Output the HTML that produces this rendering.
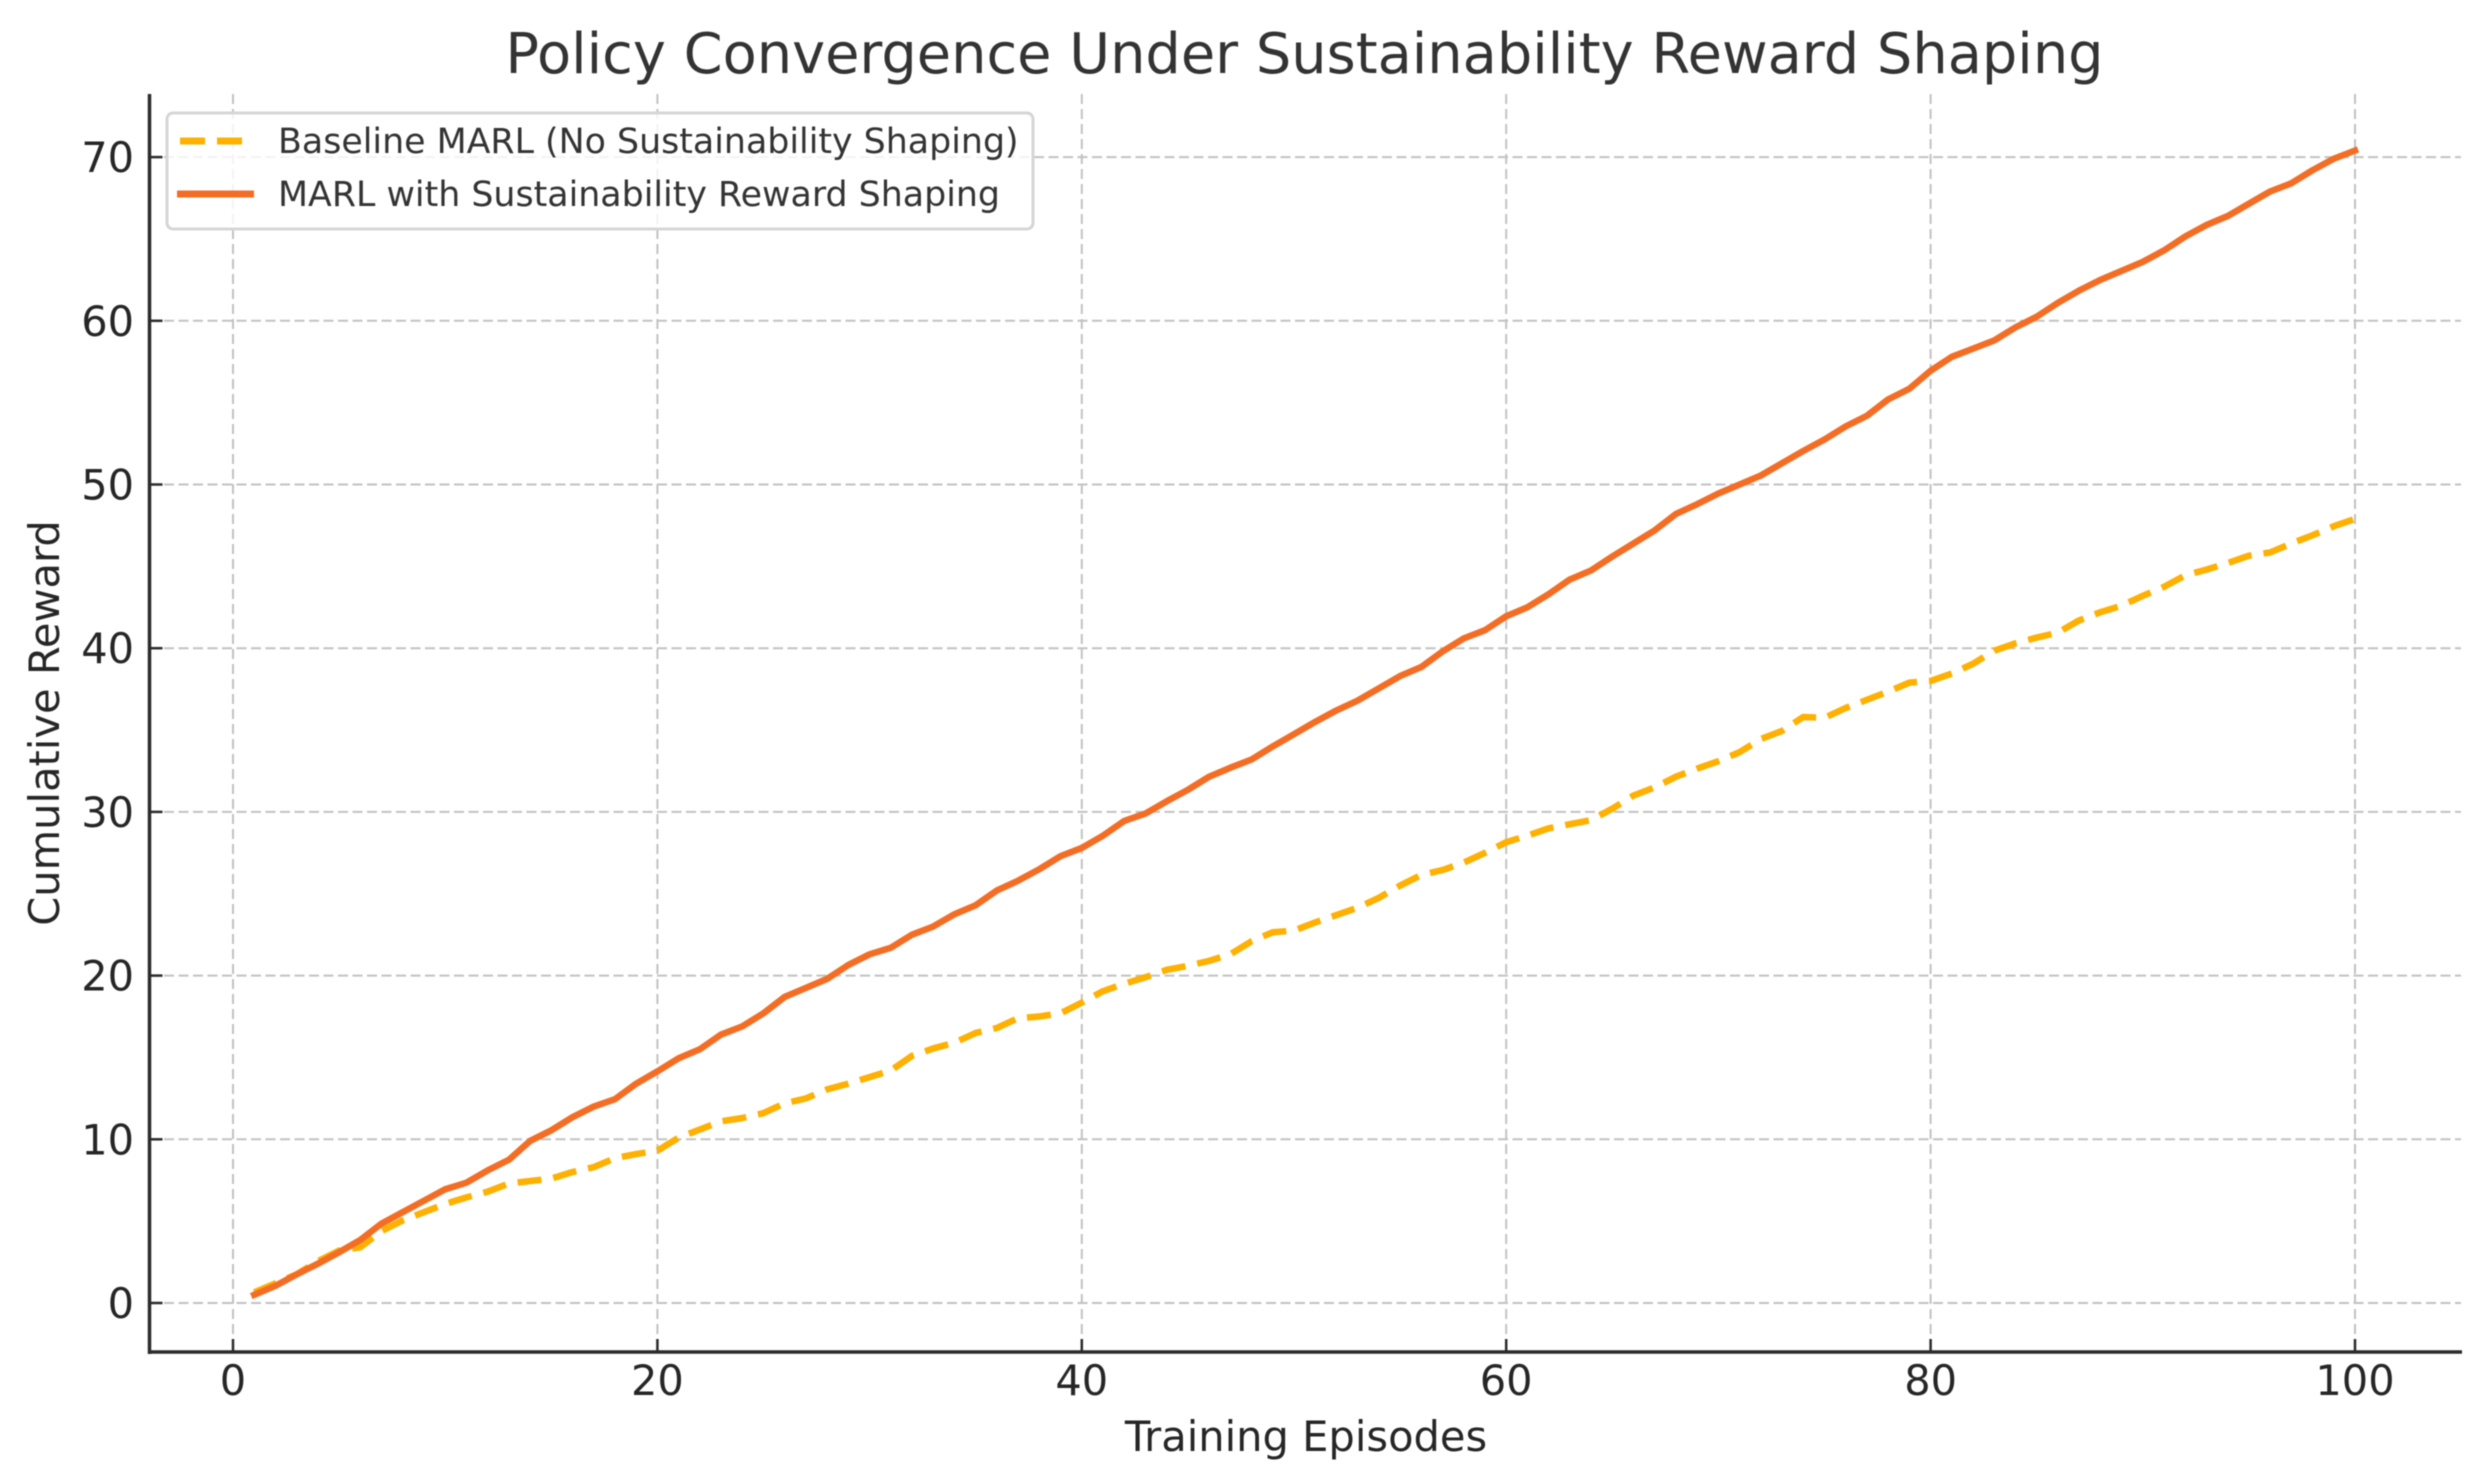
<!DOCTYPE html>
<html lang="en">
<head>
<meta charset="utf-8">
<title>Policy Convergence Under Sustainability Reward Shaping</title>
<style>
html,body{margin:0;padding:0;background:#fff;width:2488px;height:1480px;overflow:hidden}
svg{display:block;filter:blur(0.6px)}
text{font-family:"DejaVu Sans","Liberation Sans",sans-serif}
</style>
</head>
<body>
<svg id="chart" xmlns="http://www.w3.org/2000/svg" width="2488" height="1480" viewBox="0 0 2488 1480">
  <rect x="0" y="0" width="2488" height="1480" fill="#ffffff"/>
  <g id="grid"></g>
  <g id="series"></g>
  <g id="legend">
    <rect x="167" y="113" width="866" height="116" rx="6" ry="6" fill="#ffffff" fill-opacity="0.8" stroke="#d6d6d6" stroke-width="3"/>
    <g>
      <line x1="180" y1="141" x2="254" y2="141" stroke="#ffb000" stroke-width="7" stroke-dasharray="25 12"/>
      <text x="278" y="153" font-size="34.8" fill="#333333">Baseline MARL (No Sustainability Shaping)</text>
    </g>
    <g>
      <line x1="177" y1="194" x2="254" y2="194" stroke="#f46d25" stroke-width="7"/>
      <text x="278" y="206" font-size="34.8" fill="#333333">MARL with Sustainability Reward Shaping</text>
    </g>
  </g>
  <g id="axes">
    <line x1="149.5" y1="94" x2="149.5" y2="1354" stroke="#2b2b2b" stroke-width="3.5"/>
    <line x1="148" y1="1352" x2="2462" y2="1352" stroke="#2b2b2b" stroke-width="3.5"/>
  </g>
  <text x="1304.5" y="73" text-anchor="middle" font-size="55.8" fill="#333333">Policy Convergence Under Sustainability Reward Shaping</text>
  <text x="1306" y="1451" text-anchor="middle" font-size="41.6" fill="#262626">Training Episodes</text>
  <text transform="translate(59 723) rotate(-90)" text-anchor="middle" font-size="41.6" fill="#262626">Cumulative Reward</text>
</svg>
<script>
const episodes = [1,2,3,4,5,6,7,8,9,10,11,12,13,14,15,16,17,18,19,20,21,22,23,24,25,26,27,28,29,30,31,32,33,34,35,36,37,38,39,40,41,42,43,44,45,46,47,48,49,50,51,52,53,54,55,56,57,58,59,60,61,62,63,64,65,66,67,68,69,70,71,72,73,74,75,76,77,78,79,80,81,82,83,84,85,86,87,88,89,90,91,92,93,94,95,96,97,98,99,100];
const baselineValues = [0.65,1.2,1.75,2.55,3.2,3.4,4.4,5.05,5.55,6.05,6.45,6.8,7.3,7.45,7.6,8.0,8.3,8.85,9.1,9.3,10.1,10.6,11.1,11.3,11.6,12.2,12.5,13.05,13.4,13.8,14.2,15.1,15.55,15.9,16.5,16.8,17.4,17.5,17.7,18.35,19.05,19.5,19.9,20.35,20.6,20.9,21.3,22.1,22.65,22.75,23.25,23.7,24.15,24.75,25.5,26.15,26.45,26.9,27.5,28.15,28.55,29.0,29.25,29.5,30.2,31.0,31.5,32.15,32.65,33.1,33.65,34.45,34.95,35.8,35.75,36.35,36.85,37.35,37.9,38.0,38.45,39.05,39.85,40.3,40.65,40.95,41.7,42.2,42.6,43.2,43.75,44.45,44.8,45.2,45.65,45.85,46.4,46.9,47.45,47.9];
const shapedValues = [0.5,1.05,1.75,2.4,3.1,3.85,4.85,5.55,6.25,6.95,7.35,8.1,8.75,9.9,10.55,11.35,12.0,12.45,13.4,14.15,14.95,15.5,16.4,16.9,17.7,18.7,19.25,19.8,20.65,21.3,21.7,22.5,23.0,23.75,24.3,25.2,25.8,26.5,27.3,27.8,28.55,29.45,29.9,30.65,31.35,32.15,32.7,33.2,34.0,34.75,35.5,36.2,36.8,37.55,38.3,38.85,39.8,40.6,41.1,41.95,42.5,43.3,44.2,44.75,45.6,46.4,47.2,48.2,48.8,49.45,50.0,50.55,51.3,52.05,52.75,53.55,54.2,55.2,55.85,56.95,57.8,58.3,58.8,59.6,60.25,61.1,61.85,62.5,63.05,63.6,64.3,65.15,65.85,66.4,67.15,67.9,68.4,69.2,69.9,70.4];
const xTickLabels = [0,20,40,60,80,100];
const yTickLabels = [0,10,20,30,40,50,60,70];

const NS = 'http://www.w3.org/2000/svg';
const PLOT_LEFT = 149.5, PLOT_RIGHT = 2461, PLOT_TOP = 94, PLOT_BOTTOM = 1352;

function xScale(v) { return 233 + v * 21.22; }
function yScale(v) { return 1303 - v * 16.37; }

function make(tag, attrs) {
  const el = document.createElementNS(NS, tag);
  Object.keys(attrs).forEach(function (k) { el.setAttribute(k, attrs[k]); });
  return el;
}

const gridGroup = document.getElementById('grid');
const axesGroup = document.getElementById('axes');
const seriesGroup = document.getElementById('series');

xTickLabels.forEach(function (t) {
  const x = xScale(t);
  const g = make('line', {x1: x, y1: PLOT_TOP, x2: x, y2: PLOT_BOTTOM, stroke: '#c2c2c2', 'stroke-width': 2, 'stroke-dasharray': '10 5'});
  
  
  gridGroup.appendChild(g);
  const tick = make('line', {x1: x, y1: PLOT_BOTTOM, x2: x, y2: PLOT_BOTTOM - 13, stroke: '#2b2b2b', 'stroke-width': 2.5});
  
  
  axesGroup.appendChild(tick);
  const label = make('text', {x: x, y: 1395, 'text-anchor': 'middle', 'font-size': 41.5, fill: '#262626'});
  
  
  label.textContent = String(t);
  axesGroup.appendChild(label);
});

yTickLabels.forEach(function (t) {
  const y = yScale(t);
  const g = make('line', {x1: PLOT_LEFT, y1: y, x2: PLOT_RIGHT, y2: y, stroke: '#c2c2c2', 'stroke-width': 2, 'stroke-dasharray': '10 4.5'});
  
  
  gridGroup.appendChild(g);
  const tick = make('line', {x1: PLOT_LEFT, y1: y, x2: PLOT_LEFT + 13, y2: y, stroke: '#2b2b2b', 'stroke-width': 2.5});
  
  
  axesGroup.appendChild(tick);
  const label = make('text', {x: 134, y: y + 15, 'text-anchor': 'end', 'font-size': 41.5, fill: '#262626'});
  
  
  label.textContent = String(t);
  axesGroup.appendChild(label);
});

function linePath(values) {
  return values.map(function (v, i) {
    return (i === 0 ? 'M' : 'L') + xScale(episodes[i]).toFixed(2) + ' ' + yScale(v).toFixed(2);
  }).join(' ');
}

const baselineLine = make('path', {d: linePath(baselineValues), fill: 'none', stroke: '#ffb000', 'stroke-width': 6.5, 'stroke-dasharray': '24 12', 'stroke-linejoin': 'round'});


seriesGroup.appendChild(baselineLine);

const shapedLine = make('path', {d: linePath(shapedValues), fill: 'none', stroke: '#f46d25', 'stroke-width': 6.5, 'stroke-linejoin': 'round', 'stroke-linecap': 'square'});


seriesGroup.appendChild(shapedLine);
</script>
</body>
</html>
